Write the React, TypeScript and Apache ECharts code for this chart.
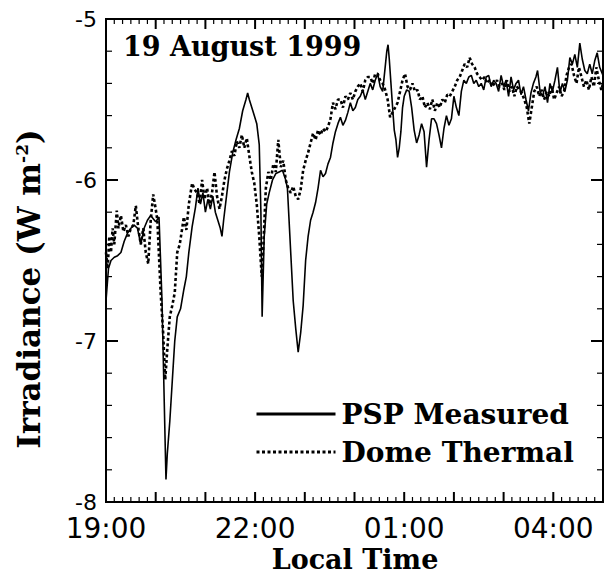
import React, { useEffect, useRef } from "react";
import * as echarts from "echarts";

// Minutes after 19:00 local time, and irradiance (W m^-2)
const pspTime = [
  0, 3, 6, 10, 14, 18, 22, 26, 30, 34,
  38, 42, 46, 50, 54, 57, 60, 64, 67.6, 72.4,
  74, 77, 80, 83, 86, 90, 94, 97, 100, 104,
  108, 111, 114, 117, 120, 123, 126, 129, 132, 135,
  138, 140, 142, 145, 149, 153, 157, 161, 165, 169,
  171, 173, 176, 179, 182, 185, 187, 188.5, 191, 194,
  197, 201, 205, 209, 213, 217, 219, 222, 226, 229,
  232, 235, 238, 241, 244, 247, 250, 253, 256, 259,
  262, 265, 268, 271, 274, 277, 280, 283, 286, 289,
  292, 295, 298, 301, 304, 307, 310, 313, 316, 319,
  322, 325, 328, 331, 334, 337, 339, 340.5, 342, 344,
  346, 348, 350, 352, 354, 356, 358, 360, 363, 366,
  369, 372, 375, 378, 381, 384, 387, 390, 393, 396,
  399, 402, 405, 408, 411, 414, 417, 420, 423, 426,
  429, 432, 435, 438, 441, 444, 447, 450, 453, 456,
  459, 462, 465, 468, 471, 474, 477, 480, 483, 486,
  489, 492, 495, 498, 501, 504, 507, 510, 513, 516,
  519, 521, 524, 527, 530, 533, 536, 539, 542, 545,
  548, 551, 554, 557, 560, 563, 566, 569, 572, 575,
  578, 581, 584, 587, 590, 593, 596, 600,
];
const pspValue = [
  -6.75, -6.55, -6.5, -6.48, -6.47, -6.45, -6.38, -6.33, -6.3, -6.28,
  -6.3, -6.4, -6.3, -6.25, -6.22, -6.24, -6.26, -6.23, -6.75, -7.86,
  -7.7, -7.5, -7.25, -7.0, -6.85, -6.8, -6.68, -6.6, -6.45, -6.29,
  -6.17, -6.05, -6.15, -6.08, -6.2, -6.12, -6.18, -6.1, -6.2, -6.25,
  -6.3, -6.35, -6.25, -6.12, -5.95, -5.83, -5.75, -5.68, -5.57, -5.5,
  -5.46, -5.5, -5.55, -5.6, -5.65, -5.78, -6.2, -6.85, -6.35, -6.15,
  -6.08, -6.0, -5.96, -5.95, -5.94, -6.0, -6.05, -6.35, -6.75, -6.92,
  -7.07, -6.95, -6.78, -6.5, -6.35, -6.25, -6.2, -6.14, -6.05, -5.94,
  -5.98, -5.96, -5.9, -5.86, -5.77, -5.7, -5.65, -5.61, -5.66, -5.63,
  -5.58, -5.52, -5.57, -5.55, -5.5, -5.48, -5.44, -5.5, -5.45, -5.4,
  -5.44, -5.38, -5.34, -5.42, -5.45, -5.3, -5.2, -5.16, -5.25, -5.4,
  -5.55, -5.69, -5.75, -5.86, -5.8, -5.7, -5.55, -5.48, -5.44, -5.45,
  -5.55, -5.69, -5.77, -5.72, -5.65, -5.7, -5.92, -5.75, -5.62, -5.62,
  -5.65, -5.72, -5.8, -5.68, -5.6, -5.66, -5.62, -5.48, -5.55, -5.6,
  -5.45, -5.38, -5.4, -5.36, -5.35, -5.4, -5.38, -5.42, -5.4, -5.44,
  -5.36, -5.35, -5.42, -5.38, -5.4, -5.45, -5.35, -5.42, -5.38, -5.48,
  -5.36, -5.44, -5.4, -5.38, -5.47, -5.42, -5.5, -5.57, -5.46, -5.4,
  -5.36, -5.32, -5.45, -5.48, -5.42, -5.52, -5.4, -5.45, -5.38, -5.3,
  -5.46, -5.4, -5.45, -5.38, -5.24, -5.28, -5.22, -5.3, -5.15, -5.25,
  -5.32, -5.34, -5.28, -5.34, -5.26, -5.21, -5.3, -5.35,
];

const domeTime = [
  0, 2, 4, 6, 8, 10, 13, 15, 18, 21,
  24, 27, 30, 33, 36, 39, 42, 45, 48, 51,
  54, 57, 60, 62, 66, 69, 71.5, 74, 77, 80,
  83, 86, 89, 92, 94, 97, 100, 104, 107, 110,
  113, 116, 119, 122, 125, 128, 131, 134, 137, 140,
  143, 146, 149, 152, 155, 158, 161, 164, 167, 170,
  173, 176, 179, 182, 185, 188, 190, 193, 196, 199,
  202, 205, 208, 211, 214, 217, 220, 223, 226, 229,
  232, 235, 238, 241, 244, 247, 250, 253, 256, 259,
  262, 265, 268, 271, 274, 277, 280, 283, 286, 289,
  292, 295, 298, 301, 304, 307, 310, 313, 316, 319,
  322, 325, 328, 331, 334, 337, 340, 343, 346, 349,
  352, 355, 358, 361, 364, 367, 370, 373, 376, 379,
  382, 385, 388, 391, 394, 397, 400, 403, 406, 409,
  412, 415, 418, 421, 424, 427, 430, 433, 436, 439,
  442, 445, 448, 451, 454, 457, 460, 463, 466, 469,
  472, 475, 478, 481, 484, 487, 490, 493, 496, 499,
  502, 505, 508, 511, 514, 517, 520, 523, 526, 529,
  532, 535, 538, 541, 544, 547, 550, 553, 556, 559,
  562, 565, 568, 571, 574, 577, 580, 583, 586, 589,
  592, 595, 598, 600,
];
const domeValue = [
  -6.45, -6.55, -6.35, -6.45, -6.3, -6.4, -6.19, -6.3, -6.22, -6.32,
  -6.28, -6.35, -6.3, -6.28, -6.16, -6.3, -6.4, -6.3, -6.45, -6.52,
  -6.25, -6.09, -6.18, -6.25, -6.7, -6.95, -7.24, -7.05, -6.85, -6.78,
  -6.7, -6.45, -6.4, -6.3, -6.23, -6.31, -6.15, -6.02, -6.06, -6.08,
  -6.15, -6.0, -6.12, -6.05, -6.15, -6.08, -5.95, -6.1, -6.18, -6.1,
  -6.0, -5.93, -5.88, -5.82, -5.85, -5.76, -5.8, -5.72, -5.8, -5.74,
  -5.85, -5.95, -6.02, -6.15, -6.35, -6.6, -6.4, -6.05, -5.95, -6.0,
  -5.9, -5.95, -5.75, -5.92, -5.88, -6.0, -6.05, -6.08, -6.04, -6.1,
  -6.12, -6.06, -5.94, -5.88, -5.83, -5.77, -5.71, -5.75, -5.69, -5.72,
  -5.68, -5.7, -5.67, -5.62, -5.52, -5.56, -5.5, -5.5, -5.55, -5.48,
  -5.5, -5.46, -5.5, -5.45, -5.42, -5.4, -5.45, -5.38, -5.36, -5.36,
  -5.4, -5.34, -5.34, -5.38, -5.4, -5.44, -5.5, -5.61, -5.58, -5.55,
  -5.52, -5.45, -5.38, -5.34, -5.42, -5.44, -5.4, -5.45, -5.44, -5.5,
  -5.48, -5.55, -5.52, -5.56, -5.5, -5.57, -5.52, -5.55, -5.5, -5.52,
  -5.47, -5.48, -5.45, -5.42, -5.38, -5.36, -5.32, -5.28, -5.3, -5.24,
  -5.28, -5.3, -5.34, -5.36, -5.38, -5.36, -5.4, -5.38, -5.42, -5.4,
  -5.38, -5.42, -5.4, -5.44, -5.38, -5.45, -5.42, -5.48, -5.42, -5.44,
  -5.46, -5.5, -5.55, -5.65, -5.55, -5.45, -5.42, -5.48, -5.44, -5.5,
  -5.45, -5.48, -5.42, -5.5, -5.46, -5.42, -5.48, -5.45, -5.35, -5.3,
  -5.28, -5.35, -5.4, -5.3, -5.36, -5.42, -5.38, -5.44, -5.36, -5.42,
  -5.3, -5.38, -5.44, -5.4,
];

const xTickValues = [0, 180, 360, 540];
const xTickLabels = ["19:00", "22:00", "01:00", "04:00"];
const seriesNames = ["PSP Measured", "Dome Thermal"];
const titleText = "19 August 1999";
const xTitle = "Local Time";

const X_MIN = 0;
const X_MAX = 600;
const Y_MIN = -8;
const Y_MAX = -5;

const zip = (t: number[], v: number[]) => {
  const n = Math.min(t.length, v.length);
  const out: [number, number][] = [];
  for (let i = 0; i < n; i++) out.push([t[i], v[i]]);
  return out;
};

// Tick marks of the frame: [value, kind]; kind 0 = x hour, 1 = x 10-min, 2 = y unit, 3 = y 0.2, 4 = frame box
const buildTicks = () => {
  const out: [number, number][] = [];
  for (let m = X_MIN + 10; m < X_MAX; m += 10) out.push([m, m % 60 === 0 ? 0 : 1]);
  for (let k = 1; k < 15; k++) {
    const v = Math.round((Y_MIN + k * 0.2) * 10) / 10;
    out.push([v, k % 5 === 0 ? 2 : 3]);
  }
  out.push([0, 4]);
  return out;
};

const SERIF = "DejaVu Serif";
const SANS = "DejaVu Sans";

export default function App() {
  const ref = useRef<HTMLDivElement>(null);
  useEffect(() => {
    if (!ref.current) return;
    const chart = echarts.init(ref.current, undefined, { renderer: "svg" });
    const ln = (x1: number, y1: number, x2: number, y2: number, w: number) => ({
      type: "line",
      shape: { x1, y1, x2, y2 },
      style: { stroke: "#000", lineWidth: w },
    });
    const renderTick = (_p: any, api: any) => {
      const v = api.value(0);
      const kind = api.value(1);
      if (kind === 0 || kind === 1) {
        const len = kind === 0 ? 10 : 5;
        const w = kind === 0 ? 2 : 1.2;
        const b = api.coord([v, Y_MIN]);
        const t = api.coord([v, Y_MAX]);
        return { type: "group", children: [ln(b[0], b[1], b[0], b[1] - len, w), ln(t[0], t[1], t[0], t[1] + len, w)] };
      }
      if (kind === 2 || kind === 3) {
        const len = kind === 2 ? 12 : 6;
        const w = kind === 2 ? 2 : 1.2;
        const l = api.coord([X_MIN, v]);
        const r = api.coord([X_MAX, v]);
        return { type: "group", children: [ln(l[0], l[1], l[0] + len, l[1], w), ln(r[0], r[1], r[0] - len, r[1], w)] };
      }
      const tl = api.coord([X_MIN, Y_MAX]);
      const br = api.coord([X_MAX, Y_MIN]);
      return {
        type: "rect",
        shape: { x: tl[0], y: tl[1], width: br[0] - tl[0], height: br[1] - tl[1] },
        style: { fill: "none", stroke: "#000", lineWidth: 2 },
      };
    };
    chart.setOption({
      animation: false,
      grid: { left: 106, right: 5, top: 19, bottom: 74 },
      legend: {
        show: true,
        orient: "vertical",
        left: 250,
        top: 395,
        itemWidth: 79,
        itemHeight: 14,
        itemGap: 10,
        lineStyle: { width: 3 },
        itemStyle: { opacity: 0, borderWidth: 0 },
        textStyle: {
          color: "#000",
          fontFamily: SERIF,
          fontWeight: "bold",
          fontSize: 28,
          lineHeight: 28,
          padding: [0, 0, 0, 1],
        },
        data: seriesNames,
      },
      graphic: [
        {
          type: "text",
          left: 123,
          top: 33,
          style: { text: titleText, fill: "#000", font: `bold 27px ${SERIF}` },
        },
        {
          type: "text",
          x: 355,
          y: 559,
          style: {
            text: xTitle,
            fill: "#000",
            font: `bold 27px ${SERIF}`,
            align: "center",
            verticalAlign: "middle",
          },
        },
        {
          type: "text",
          x: 29,
          y: 289,
          rotation: Math.PI / 2,
          style: {
            text: "{a|Irradiance (W m}{b|-2}{a|)}",
            align: "center",
            verticalAlign: "middle",
            fill: "#000",
            rich: {
              a: { fontFamily: SERIF, fontWeight: "bold", fontSize: 31, fill: "#000" },
              b: { fontFamily: SERIF, fontWeight: "bold", fontSize: 17, fill: "#000", verticalAlign: "top" },
            },
          },
        },
      ],
      xAxis: {
        type: "value", min: X_MIN, max: X_MAX, interval: 60, position: "bottom",
        axisLine: { show: true, onZero: false, lineStyle: { color: "#000", width: 2 } },
        splitLine: { show: false },
        axisTick: { show: false },
        axisLabel: {
          show: true,
          customValues: xTickValues,
          margin: 15,
          color: "#000",
          fontFamily: SANS,
          fontSize: 28,
          lineHeight: 22,
          formatter: (v: number) => xTickLabels[xTickValues.indexOf(v)] ?? String(v),
        },
      },
      yAxis: {
        type: "value", min: Y_MIN, max: Y_MAX, interval: 1, position: "left",
        axisLine: { show: true, onZero: false, lineStyle: { color: "#000", width: 2 } },
        splitLine: { show: false },
        axisTick: { show: false },
        axisLabel: { show: true, margin: 9, color: "#000", fontFamily: SANS, fontSize: 22, lineHeight: 18 },
      },
      series: [
        {
          name: seriesNames[0],
          type: "line",
          symbol: "none",
          showSymbol: false,
          data: zip(pspTime, pspValue),
          lineStyle: { color: "#000", width: 1.6, type: "solid" },
          itemStyle: { color: "#000" },
        },
        {
          name: seriesNames[1],
          type: "line",
          symbol: "none",
          showSymbol: false,
          data: zip(domeTime, domeValue),
          lineStyle: { color: "#000", width: 2.6, type: [3, 2.5] },
          itemStyle: { color: "#000" },
        },
        {
          name: "frame",
          type: "custom",
          silent: true,
          clip: false,
          z: 10,
          renderItem: renderTick,
          data: buildTicks(),
        },
      ],
    });
    return () => chart.dispose();
  }, []);
  return (
    <div
      ref={ref}
      style={{ position: "fixed", left: 0, top: 0, width: 608, height: 576, background: "#fff" }}
    />
  );
}
